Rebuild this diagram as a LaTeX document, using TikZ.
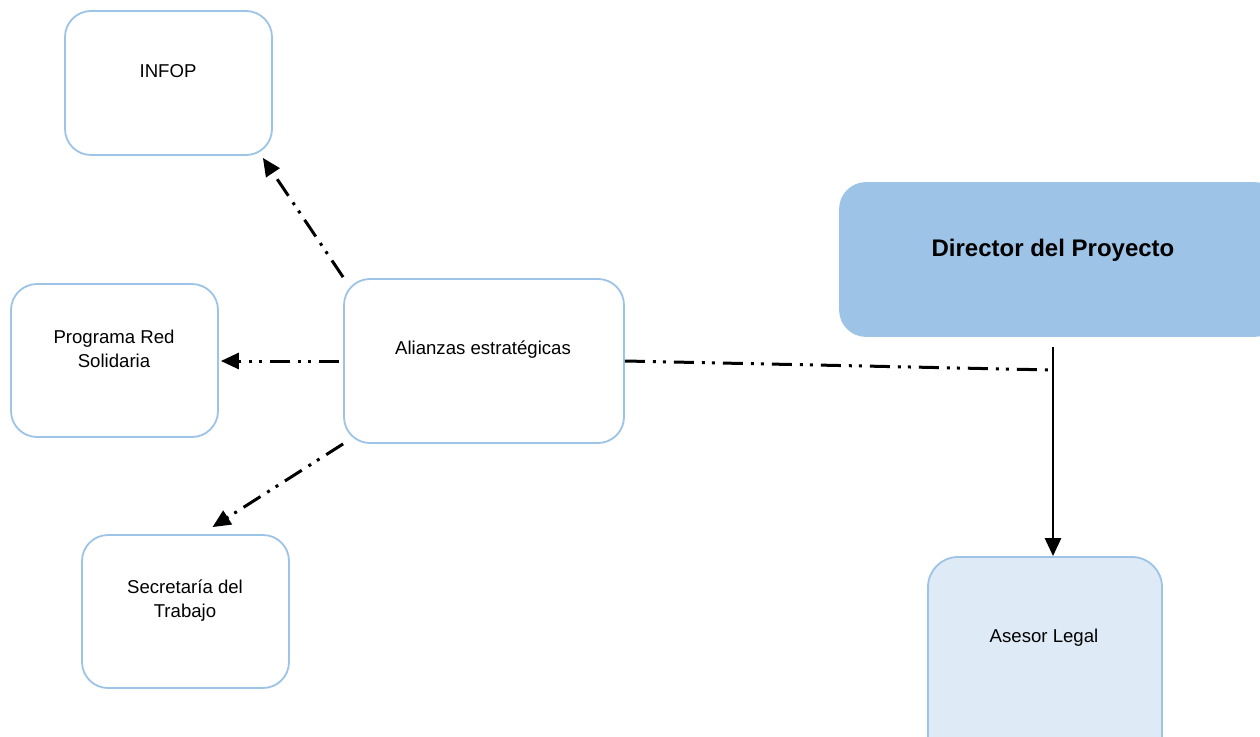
\documentclass[tikz,border=0pt]{standalone}
\usepackage{fontspec}
\setmainfont{Liberation Sans}
\usetikzlibrary{arrows.meta,calc}
\definecolor{bord}{HTML}{9DC3E6}
\definecolor{dirfill}{HTML}{9DC3E6}
\definecolor{asfill}{HTML}{DEEBF7}
\begin{document}
\begin{tikzpicture}[x=1pt,y=-1pt,
  box/.style={draw=bord,line width=1.8pt,rounded corners=26pt,fill=white,inner sep=0pt},
  txt/.style={font=\fontsize{18.6}{24}\selectfont,align=center,inner sep=0pt},
  ddot/.style={line width=3pt,dash pattern=on 20pt off 8pt on 3pt off 7pt on 3pt off 8pt},
  arr/.style={-{Triangle[length=18pt,width=16pt]}}]
\useasboundingbox (0,0) rectangle (1260,736);
% boxes
\node[box,minimum width=207pt,minimum height=144pt] (infop) at (168.5,83) {};
\node[txt] (tinfop) at (168,71) {INFOP};
\node[box,minimum width=207pt,minimum height=153pt] (red) at (114.5,360.5) {};
\node[txt] (tred) at (114,349) {Programa Red\\Solidaria};
\node[box,minimum width=207pt,minimum height=153pt] (sec) at (185.5,611.5) {};
\node[txt] (tsec) at (185,601) {Secretaría del\\Trabajo};
\node[box,minimum width=280pt,minimum height=164pt] (ali) at (484,361) {};
\node[txt] (tali) at (483,350) {Alianzas estratégicas};
\node[box,draw=dirfill,fill=dirfill,minimum width=440pt,minimum height=153pt] (dir) at (1060,259.5) {};
\node[txt,font=\fontsize{24}{28}\selectfont\bfseries] (tdir) at (1053,250) {Director del Proyecto};
\node[box,fill=asfill,rounded corners=30pt,minimum width=234pt,minimum height=220pt] (ase) at (1045,667) {};
\node[txt] (tase) at (1044,638) {Asesor Legal};
% connectors
\coordinate (j) at (1053,370);
\coordinate (vtop) at (1053,347);
\draw[ddot,arr] ($(ali.north west)+(0,-1)$) -- ($(infop.south east)+(-10,2)$);
\draw[ddot,arr] ($(ali.west)+(-4,0)$) -- ($(red.east)+(2,0.5)$);
\draw[ddot,arr] (ali.south west) -- ($(sec.north)+(27,-7)$);
\draw[ddot] (ali.east) -- (j);
\draw[line width=2.6pt,arr] (vtop) -- (vtop |- ase.north);
\end{tikzpicture}
\end{document}
